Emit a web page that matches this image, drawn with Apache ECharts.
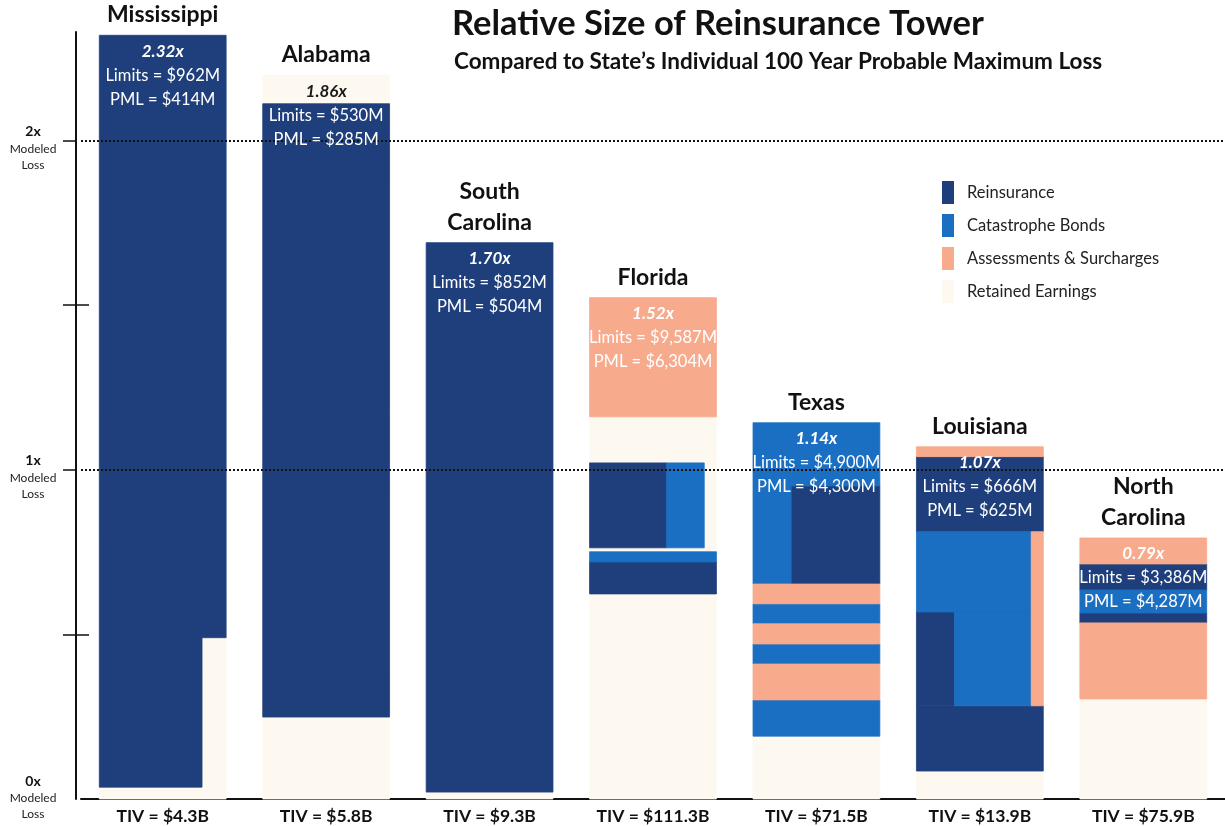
<!DOCTYPE html>
<html lang="en">
<head>
<meta charset="UTF-8">
<title>Relative Size of Reinsurance Tower</title>
<style>
    body { margin: 0; background: #fff; }
    #chart { width: 1225px; height: 826px; }
</style>
<script src="https://cdn.jsdelivr.net/npm/echarts@6.0.0/dist/echarts.min.js"></script>
</head>
<body>
<div id="chart"></div>
<script>
// one tower per state
var states = ['Mississippi', 'Alabama', 'South\nCarolina', 'Florida', 'Texas', 'Louisiana', 'North\nCarolina'];
var tiv = ['$4.3B', '$5.8B', '$9.3B', '$111.3B', '$71.5B', '$13.9B', '$75.9B'];
var ratios = ['2.32x', '1.86x', '1.70x', '1.52x', '1.14x', '1.07x', '0.79x'];
var limits = ['$962M', '$530M', '$852M', '$9,587M', '$4,900M', '$666M', '$3,386M'];
var pmls = ['$414M', '$285M', '$504M', '$6,304M', '$4,300M', '$625M', '$4,287M'];

// layers: [column, from (x PML), to (x PML), start share of tower width, end share]
var reinsurance = [
    [0, 0.036, 2.32, 0, 0.81],
    [0, 0.49, 2.32, 0.81, 1],
    [1, 0.249, 2.112, 0, 1],
    [2, 0.021, 1.69, 0, 1],
    [3, 0.623, 0.72, 0, 1],
    [3, 0.763, 1.021, 0, 0.608],
    [4, 0.653, 0.951, 0.3, 1],
    [5, 0.085, 0.283, 0, 1],
    [5, 0.283, 0.568, 0, 0.3],
    [5, 0.812, 1.04, 0, 1],
    [6, 0.535, 0.565, 0, 1],
    [6, 0.635, 0.714, 0, 1]
];
var catBonds = [
    [3, 0.72, 0.751, 0, 1],
    [3, 0.763, 1.021, 0.608, 0.904],
    [4, 0.191, 0.301, 0, 1],
    [4, 0.41, 0.471, 0, 1],
    [4, 0.532, 0.593, 0, 1],
    [4, 0.653, 1.143, 0, 0.3],
    [4, 0.951, 1.143, 0.3, 1],
    [5, 0.283, 0.568, 0.3, 0.905],
    [5, 0.568, 0.812, 0, 0.905],
    [6, 0.565, 0.635, 0, 1]
];
var assessments = [
    [3, 1.161, 1.523, 0, 1],
    [4, 0.301, 0.41, 0, 1],
    [4, 0.471, 0.532, 0, 1],
    [4, 0.593, 0.653, 0, 1],
    [5, 0.283, 0.812, 0.905, 1],
    [5, 1.04, 1.07, 0, 1],
    [6, 0.304, 0.535, 0, 1],
    [6, 0.714, 0.793, 0, 1]
];
var retained = [
    [0, 0, 0.036, 0, 1],
    [0, 0.036, 0.49, 0.81, 1],
    [1, 0, 0.249, 0, 1],
    [1, 2.112, 2.198, 0, 1],
    [2, 0, 0.021, 0, 1],
    [3, 0, 0.623, 0, 1],
    [3, 0.751, 0.763, 0, 1],
    [3, 0.763, 1.021, 0.904, 1],
    [3, 1.021, 1.161, 0, 1],
    [4, 0, 0.191, 0, 1],
    [5, 0, 0.085, 0, 1],
    [6, 0, 0.304, 0, 1]
];

var FONT = 'Lato, "Open Sans", sans-serif';
var BAR = 0.776;

// tower top and which layer sits on top (for label colour)
var tops = states.map(function () { return 0; });
var topIsRetained = states.map(function () { return false; });
[reinsurance, catBonds, assessments, retained].forEach(function (list, k) {
    list.forEach(function (d) {
        if (d[2] >= tops[d[0]]) {
            tops[d[0]] = d[2];
            topIsRetained[d[0]] = (k === 3);
        }
    });
});

function renderLayer(params, api) {
    var col = api.value(0);
    var w = api.size([1, 0])[0] * BAR;
    var bottom = api.coord([col, api.value(1)]);
    var top = api.coord([col, api.value(2)]);
    var left = bottom[0] - w / 2;
    var color = api.visual('color');
    return {
        type: 'rect',
        shape: {
            x: left + w * api.value(3),
            y: top[1],
            width: w * (api.value(4) - api.value(3)),
            height: bottom[1] - top[1]
        },
        // thin stroke in the same colour hides seams between touching blocks
        style: { fill: color, stroke: color, lineWidth: 0.8 }
    };
}

function renderNotes(params, api) {
    var i = api.value(0);
    var p = api.coord([i, api.value(1)]);
    var x = p[0], y = p[1];
    var txt = function (text, dy, size, weight, color, italic, va) {
        return {
            type: 'text',
            style: {
                text: text, x: x, y: y + dy,
                fill: color, fontSize: size, fontWeight: weight,
                fontStyle: italic ? 'italic' : 'normal', fontFamily: FONT,
                align: 'center', verticalAlign: va || 'middle', lineHeight: 31
            }
        };
    };
    return {
        type: 'group',
        children: [
            txt(states[i], -5, 23, 'bold', '#111', false, 'bottom'),
            txt(ratios[i], 16, 17, 'bold', topIsRetained[i] ? '#1a1a1a' : '#fff', true),
            txt('Limits = ' + limits[i], 40, 16.5, 'normal', '#fff', false),
            txt('PML = ' + pmls[i], 64, 16.5, 'normal', '#fff', false)
        ]
    };
}

function layerSeries(name, color, data) {
    return {
        name: name,
        type: 'custom',
        renderItem: renderLayer,
        itemStyle: { color: color },
        encode: { x: 0, y: [1, 2] },
        data: data,
        z: 2
    };
}

var chart = echarts.init(document.getElementById('chart'));
chart.setOption({
    backgroundColor: '#fff',
    animation: false,
    title: [
        { text: 'Relative Size of Reinsurance Tower', left: 447, top: 1,
          textStyle: { fontSize: 34.5, fontWeight: 'bold', color: '#111', fontFamily: FONT } },
        { text: 'Compared to State\u2019s Individual 100 Year Probable Maximum Loss', left: 449, top: 45,
          textStyle: { fontSize: 22.5, fontWeight: 'bold', color: '#111', fontFamily: FONT } }
    ],
    legend: {
        data: ['Reinsurance', 'Catastrophe Bonds', 'Assessments & Surcharges', 'Retained Earnings'],
        orient: 'vertical',
        left: 937, top: 176,
        itemWidth: 12, itemHeight: 23, itemGap: 10,
        icon: 'rect',
        textStyle: { fontSize: 16.5, color: '#222', fontFamily: FONT, padding: [0, 0, 0, 8] }
    },
    grid: { left: 81, right: 0, top: 32, bottom: 27, outerBoundsMode: 'none' },
    xAxis: {
        type: 'category',
        data: states,
        axisLine: { lineStyle: { color: '#111', width: 2 } },
        axisTick: { show: false },
        axisLabel: {
            margin: 8,
            fontSize: 17.5, fontWeight: 'bold', color: '#111', fontFamily: FONT,
            formatter: function (v, i) { return 'TIV = ' + tiv[i]; }
        }
    },
    yAxis: [{
        type: 'value', min: 0, max: 2.33, offset: 5,
        axisLine: { show: true, lineStyle: { color: '#111', width: 2 } },
        axisTick: { show: true, length: 13, customValues: [0.5, 1, 1.5, 2], lineStyle: { color: '#111', width: 1.5 } },
        splitLine: { show: false },
        axisLabel: {
            customValues: [0, 1, 2],
            margin: 43, align: 'center', padding: [14, 0, 0, 0],
            formatter: function (v) {
                var s = '{b|' + Math.round(v) + 'x}\n{s|Modeled}\n{s|Loss}';
                // the bottom label sits a little higher, clear of the page edge
                return v === 0 ? s + '\n{e| }' : s;
            },
            rich: {
                b: { fontSize: 14, fontWeight: 'bold', color: '#111', fontFamily: FONT, lineHeight: 19, align: 'center' },
                s: { fontSize: 12, color: '#222', fontFamily: FONT, lineHeight: 16, align: 'center' },
                e: { fontSize: 12, lineHeight: 18 }
            }
        }
    }, {
        type: 'value', min: 0, max: 2.33, offset: 5, position: 'left',
        axisLine: { show: false },
        axisTick: { show: true, inside: true, length: 13, customValues: [0.5, 1.5], lineStyle: { color: '#111', width: 1.5 } },
        splitLine: { show: false },
        axisLabel: { show: false }
    }],
    series: [
        layerSeries('Retained Earnings', '#fdf9f1', retained),
        layerSeries('Reinsurance', '#1f3f7c', reinsurance),
        layerSeries('Catastrophe Bonds', '#1b6fc2', catBonds),
        layerSeries('Assessments & Surcharges', '#f7aa8c', assessments),
        {
            name: 'notes',
            type: 'custom',
            renderItem: renderNotes,
            encode: { x: 0, y: 1 },
            data: tops.map(function (t, i) { return [i, t]; }),
            z: 10,
            markLine: {
                silent: true,
                symbol: 'none',
                label: { show: false },
                lineStyle: { type: 'dotted', color: '#111', width: 2 },
                data: [{ yAxis: 1 }, { yAxis: 2 }]
            }
        }
    ]
});
</script>
</body>
</html>
